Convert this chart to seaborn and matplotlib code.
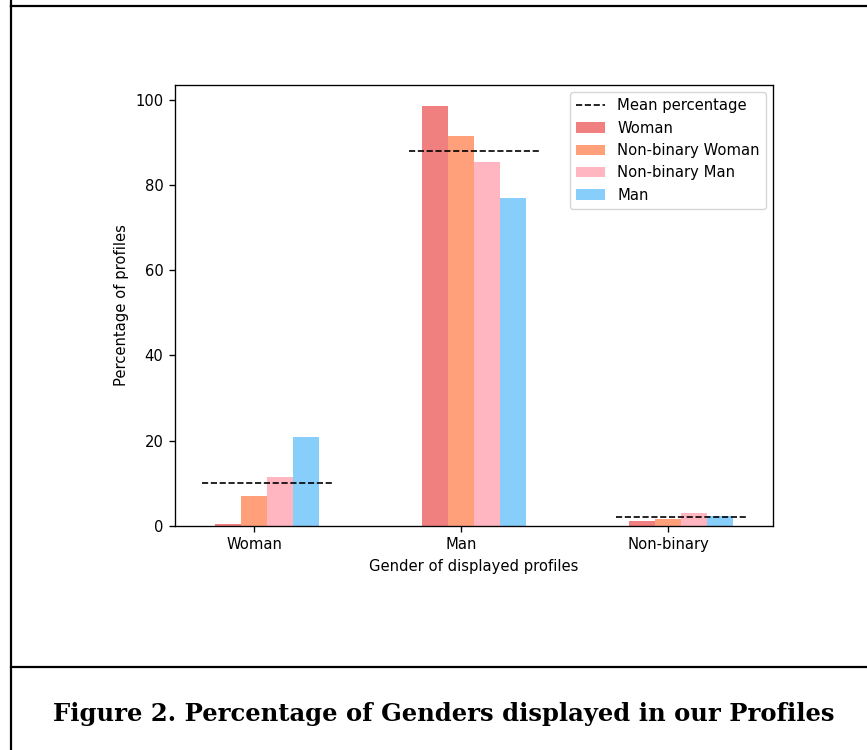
import matplotlib

matplotlib.use("Agg")

import matplotlib.pyplot as plt
import numpy as np
import pandas as pd
import seaborn as sns
from matplotlib.lines import Line2D
from matplotlib.patches import Patch

# displayed gender (x groups) and gender of our profiles (hue)
displayed_genders = ["Woman", "Man", "Non-binary"]
profile_genders = ["Woman", "Non-binary Woman", "Non-binary Man", "Man"]

# percentage of displayed profiles per group, one list per profile gender
pct_woman = [0.5, 98.6, 1.0]
pct_nb_woman = [6.9, 91.5, 1.6]
pct_nb_man = [11.5, 85.5, 3.0]
pct_man = [20.9, 76.9, 2.2]

bar_colors = ["lightcoral", "lightsalmon", "lightpink", "lightskyblue"]
caption = "Figure 2. Percentage of Genders displayed in our Profiles"

BAR_W = 0.125
series = [pct_woman, pct_nb_woman, pct_nb_man, pct_man]

rows = []
for i, (profile, values) in enumerate(zip(profile_genders, series)):
    for j, value in enumerate(values):
        rows.append({"pos": j + (i - 1) * BAR_W, "pct": value, "profile": profile})
frame = pd.DataFrame(rows)
means = np.mean(np.array(series), axis=0)

plt.rcParams.update({
    "font.family": "DejaVu Sans",
    "font.size": 10.6,
    "axes.linewidth": 0.96,
    "xtick.major.width": 0.96,
    "ytick.major.width": 0.96,
    "xtick.major.size": 4.2,
    "ytick.major.size": 4.2,
    "xtick.major.pad": 4.2,
    "ytick.major.pad": 4.2,
    "axes.labelpad": 4.8,
})

fig = plt.figure(figsize=(8.67, 7.5), dpi=100)
ax = fig.add_axes([175 / 867, 1 - 525.7 / 750, 598 / 867, 440.7 / 750])

sns.barplot(
    data=frame, x="pos", y="pct", hue="profile", hue_order=profile_genders,
    palette=bar_colors, native_scale=True, dodge=False, width=1.0,
    saturation=1, linewidth=0, legend=False, ax=ax,
)
group_x = np.arange(len(displayed_genders))
ax.hlines(means, group_x - 2 * BAR_W, group_x + 3 * BAR_W, colors="black",
          linestyles="--", linewidth=1.2)

ax.set_xticks(group_x)
ax.set_xticklabels(displayed_genders)
ax.set_xlabel("Gender of displayed profiles")
ax.set_ylabel("Percentage of profiles")

handles = [Line2D([], [], color="black", linestyle="--", linewidth=1.2)]
handles += [Patch(facecolor=c) for c in bar_colors]
ax.legend(handles, ["Mean percentage"] + profile_genders, loc="upper right",
          fontsize=10.6)

# page frame and caption around the figure
for xs, ys in [([11, 11], [0, 6]), ([11, 867], [6, 6]), ([11, 867], [667, 667]),
               ([11, 11], [6, 750])]:
    fig.add_artist(Line2D([x / 867 for x in xs], [1 - y / 750 for y in ys],
                          color="black", linewidth=1.6))
fig.text(443.5 / 867, 1 - 720.7 / 750, caption, ha="center", va="baseline",
         fontsize=17.5, fontweight="bold", family="DejaVu Serif")

fig.savefig("out.png", dpi=100)
